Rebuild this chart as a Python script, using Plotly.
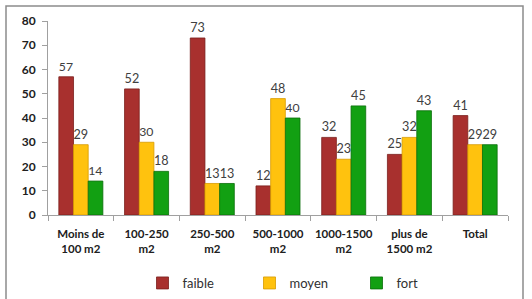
import plotly.graph_objects as go

categories = ["Moins de<br>100 m2", "100-250<br>m2", "250-500<br>m2", "500-1000<br>m2",
              "1000-1500<br>m2", "plus de<br>1500 m2", "Total"]
faible = [57, 52, 73, 12, 32, 25, 41]
moyen = [29, 30, 13, 48, 23, 32, 29]
fort = [14, 18, 13, 40, 45, 43, 29]
y_ticks = [0, 10, 20, 30, 40, 50, 60, 70, 80]

series = [("faible", faible, "#A8302E", "#7A1E1C"),
          ("moyen", moyen, "#FFC20E", "#D79A00"),
          ("fort", fort, "#12A012", "#0A6E0A")]

fig = go.Figure()
for name, vals, col, edge in series:
    fig.add_trace(go.Bar(
        x=categories, y=vals, name=name,
        marker=dict(color=col, line=dict(color=edge, width=0.8)),
        text=[str(v) for v in vals], textposition="outside",
        textfont=dict(family="Lato, Open Sans, sans-serif", size=13, color="#404040"),
        cliponaxis=False,
    ))

L, R, T, B = 48, 24, 21, 84
W, H = 532, 299
pw, ph = W - L - R, H - T - B

def px_x(p):
    return (p - L) / pw

def px_y(p):
    return (H - B - p) / ph

fig.add_shape(type="rect", xref="paper", yref="paper",
              x0=px_x(6), x1=px_x(523), y0=px_y(305), y1=px_y(6),
              line=dict(color="#8C8C8C", width=1.5), fillcolor="rgba(0,0,0,0)", layer="below")

fig.update_layout(
    width=W, height=H,
    margin=dict(l=L, r=R, t=T, b=B, autoexpand=False),
    paper_bgcolor="white", plot_bgcolor="white",
    barmode="group", bargap=0.33, bargroupgap=0,
    showlegend=True,
    legend=dict(orientation="h", x=px_x(48 + 230 + 25), xanchor="center", y=px_y(268), yanchor="top",
                font=dict(family="Lato, Open Sans, sans-serif", size=13, color="#303030"),
                itemwidth=30, tracegroupgap=0, entrywidth=62),
)
fig.update_xaxes(
    showline=True, linecolor="#A0A0A0", linewidth=1,
    ticks="outside", tickson="boundaries", ticklen=5, tickcolor="#A0A0A0",
    tickfont=dict(family="Lato, Open Sans, sans-serif", size=11.5, color="#202020", weight="bold"),
    ticklabelstandoff=8, tickangle=0,
    showgrid=False, automargin=False,
)
fig.update_yaxes(
    range=[0, 80], tickvals=y_ticks, showline=True, linecolor="#A0A0A0", linewidth=1,
    ticks="outside", ticklen=5, tickcolor="#A0A0A0",
    tickfont=dict(family="Lato, Open Sans, sans-serif", size=12, color="#202020", weight="bold"),
    ticklabelstandoff=4,
    showgrid=False, zeroline=False, automargin=False,
)

fig.write_html("out.html")
